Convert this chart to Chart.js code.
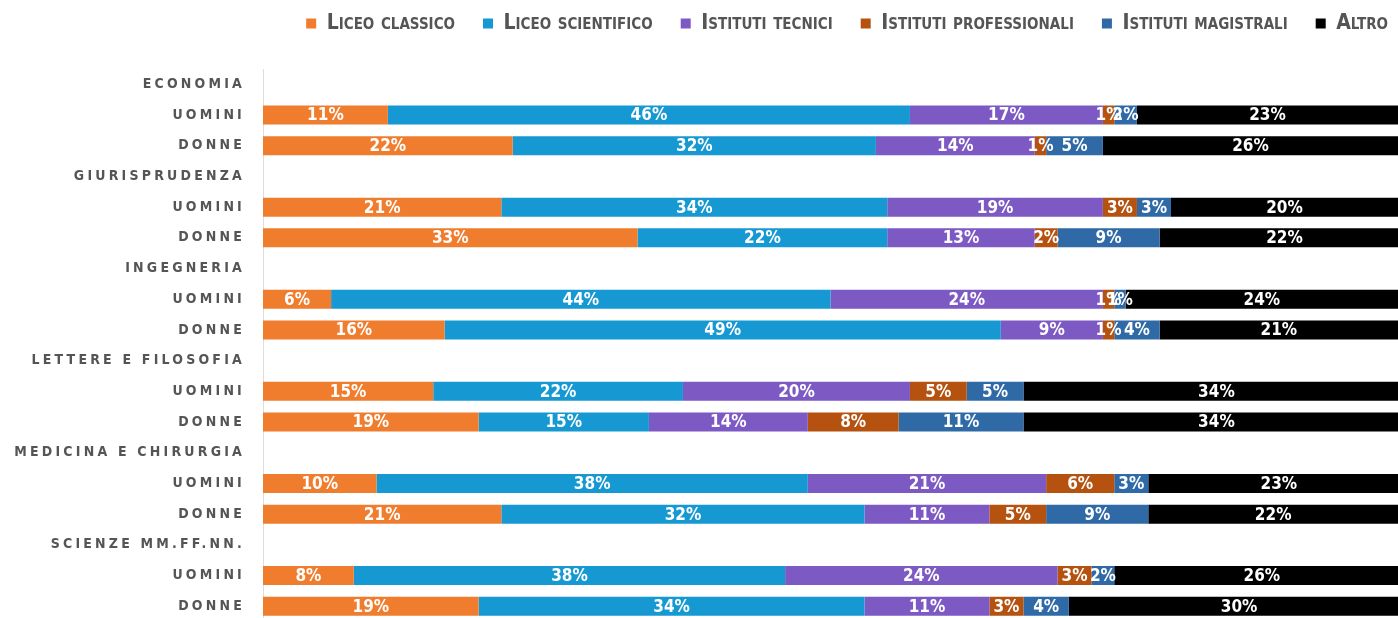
<!DOCTYPE html>
<html lang="it">
<head>
<meta charset="utf-8">
<title>Provenienza scolastica per facoltà</title>
<script src="https://cdn.jsdelivr.net/npm/chart.js@4.4.1/dist/chart.umd.min.js"></script>
<style>
  html, body { margin: 0; padding: 0; background: #fff; overflow: hidden; }
  #wrap { position: relative; width: 1398px; height: 640px; }
</style>
</head>
<body>
<div id="wrap"><canvas id="chart"></canvas></div>
<script>
// Rows: faculty headers (no bars) followed by men / women
const rowLabels = [
    'ECONOMIA', 'UOMINI', 'DONNE',
    'GIURISPRUDENZA', 'UOMINI', 'DONNE',
    'INGEGNERIA', 'UOMINI', 'DONNE',
    'LETTERE E FILOSOFIA', 'UOMINI', 'DONNE',
    'MEDICINA E CHIRURGIA', 'UOMINI', 'DONNE',
    'SCIENZE MM.FF.NN.', 'UOMINI', 'DONNE'
];

const seriesNames = [
    'Liceo classico', 'Liceo scientifico', 'Istituti tecnici',
    'Istituti professionali', 'Istituti magistrali', 'Altro'
];
const seriesColors = ['#F07D2E', '#1698D2', '#7D59C4', '#B5520F', '#2F6AA7', '#000000'];

// Percentages (null on header rows)
const liceoClassico      = [null, 11, 22, null, 21, 33, null,  6, 16, null, 15, 19, null, 10, 21, null,  8, 19];
const liceoScientifico   = [null, 46, 32, null, 34, 22, null, 44, 49, null, 22, 15, null, 38, 32, null, 38, 34];
const istitutiTecnici    = [null, 17, 14, null, 19, 13, null, 24,  9, null, 20, 14, null, 21, 11, null, 24, 11];
const istitutiProf       = [null,  1,  1, null,  3,  2, null,  1,  1, null,  5,  8, null,  6,  5, null,  3,  3];
const istitutiMagistrali = [null,  2,  5, null,  3,  9, null,  1,  4, null,  5, 11, null,  3,  9, null,  2,  4];
const altro              = [null, 23, 26, null, 20, 22, null, 24, 21, null, 34, 34, null, 23, 22, null, 26, 30];

const seriesData = [liceoClassico, liceoScientifico, istitutiTecnici, istitutiProf, istitutiMagistrali, altro];

const FONT = '"Liberation Sans Narrow", "DejaVu Sans Condensed", "Roboto", sans-serif';

// white "nn%" in the middle of every segment
const barValueLabels = {
    id: 'barValueLabels',
    afterDatasetsDraw(chart) {
        const ctx = chart.ctx;
        ctx.save();
        ctx.font = 'bold 17px ' + FONT;
        ctx.fillStyle = '#ffffff';
        ctx.textAlign = 'center';
        ctx.textBaseline = 'middle';
        chart.data.datasets.forEach((ds, i) => {
            chart.getDatasetMeta(i).data.forEach((bar, j) => {
                const v = ds.data[j];
                if (v == null) return;
                const { x, y, base } = bar.getProps(['x', 'y', 'base'], true);
                ctx.fillText(v + '%', (x + base) / 2, y + 1);
            });
        });
        ctx.restore();
    }
};

// tracked-out category labels on the y axis
const spacedTicks = {
    id: 'spacedTicks',
    beforeDraw(chart) {
        const scale = chart.scales.y;
        if (scale._spaced) return;
        const drawLabels = scale.drawLabels;
        scale.drawLabels = function (area) {
            this.ctx.save();
            this.ctx.letterSpacing = '3.2px';
            drawLabels.call(this, area);
            this.ctx.restore();
        };
        scale._spaced = true;
    }
};

// legend sits higher and further right than the default box
const legendShift = {
    id: 'legendShift',
    afterLayout(chart) {
        const lg = chart.legend;
        if (!lg) return;
        lg.left += 18; lg.right += 18;
        lg.top -= 25; lg.bottom -= 25;
    }
};

new Chart(document.getElementById('chart'), {
    type: 'bar',
    data: {
        labels: rowLabels,
        datasets: seriesNames.map((name, i) => ({
            label: name,
            data: seriesData[i],
            backgroundColor: seriesColors[i],
            borderWidth: 0,
            barPercentage: 0.62,
            categoryPercentage: 1
        }))
    },
    options: {
        indexAxis: 'y',
        responsive: true,
        maintainAspectRatio: false,
        animation: false,
        layout: { autoPadding: false, padding: { top: 10, right: 0, bottom: 0, left: 0 } },
        plugins: {
            legend: {
                position: 'top',
                align: 'end',
                labels: {
                    color: '#555555',
                    boxWidth: 10,
                    boxHeight: 10,
                    padding: 28,
                    font: { family: FONT, size: 21, weight: 'small-caps bold' }
                }
            },
            tooltip: { enabled: false }
        },
        scales: {
            x: {
                stacked: true,
                min: 0,
                max: 100,
                display: false
            },
            y: {
                stacked: true,
                grid: { display: false },
                border: { display: true, color: '#dddddd', width: 1 },
                ticks: {
                    color: '#555555',
                    padding: 10,
                    autoSkip: false,
                    font: { family: '"DejaVu Sans Condensed", sans-serif', size: 14, weight: 'bold' }
                },
                afterFit(scale) { scale.width = 263; }
            }
        }
    },
    plugins: [barValueLabels, spacedTicks, legendShift]
});
</script>
</body>
</html>
